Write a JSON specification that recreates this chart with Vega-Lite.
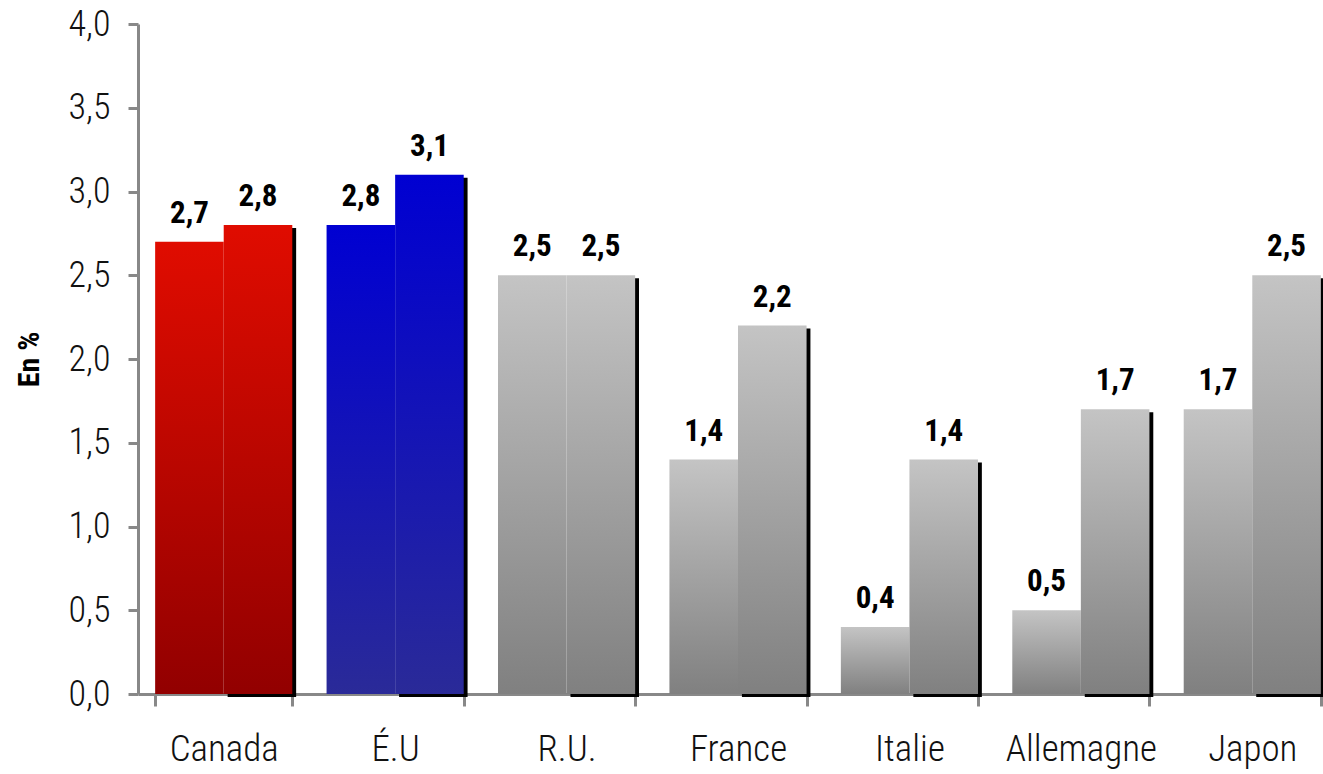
{
  "$schema": "https://vega.github.io/schema/vega-lite/v6.json",
  "width": 1200,
  "height": 670,
  "autosize": "none",
  "padding": {"left": 138, "top": 24, "right": 0, "bottom": 80},
  "config": {
    "font": "'Roboto Condensed', 'DejaVu Sans Condensed', 'Liberation Sans Narrow', sans-serif",
    "view": {"stroke": null},
    "locale": {"number": {"decimal": ",", "thousands": " ", "grouping": [3], "currency": ["", " €"]}}
  },
  "data": {
    "values": [
      {"pays": "Canada", "serie": "1", "valeur": 2.7},
      {"pays": "Canada", "serie": "2", "valeur": 2.8},
      {"pays": "É.U", "serie": "1", "valeur": 2.8},
      {"pays": "É.U", "serie": "2", "valeur": 3.1},
      {"pays": "R.U.", "serie": "1", "valeur": 2.5},
      {"pays": "R.U.", "serie": "2", "valeur": 2.5},
      {"pays": "France", "serie": "1", "valeur": 1.4},
      {"pays": "France", "serie": "2", "valeur": 2.2},
      {"pays": "Italie", "serie": "1", "valeur": 0.4},
      {"pays": "Italie", "serie": "2", "valeur": 1.4},
      {"pays": "Allemagne", "serie": "1", "valeur": 0.5},
      {"pays": "Allemagne", "serie": "2", "valeur": 1.7},
      {"pays": "Japon", "serie": "1", "valeur": 1.7},
      {"pays": "Japon", "serie": "2", "valeur": 2.5}
    ]
  },
  "encoding": {
    "x": {
      "field": "pays", "type": "nominal", "sort": null,
      "scale": {"paddingInner": 0.2, "paddingOuter": 0.1},
      "axis": {
        "title": null, "labelAngle": 0, "labelFontSize": 37, "labelFontWeight": 300, "labelColor": "#111",
        "labelPadding": 25, "domainColor": "#888", "domainWidth": 3,
        "tickColor": "#888", "tickWidth": 3, "tickSize": 12, "tickBand": "extent"
      }
    },
    "y": {
      "field": "valeur", "type": "quantitative",
      "scale": {"domain": [0, 4], "nice": false},
      "axis": {
        "values": [0, 0.5, 1, 1.5, 2, 2.5, 3, 3.5, 4], "format": ".1f", "grid": false,
        "labelFontSize": 36, "labelFontWeight": 300, "labelColor": "#111", "labelPadding": 18,
        "domainColor": "#888", "domainWidth": 3, "tickColor": "#888", "tickWidth": 3, "tickSize": 10,
        "title": "En %", "titleFontSize": 30, "titleFontWeight": "bold", "titleColor": "#000", "titlePadding": 24
      }
    }
  },
  "resolve": {"scale": {"xOffset": "independent"}},
  "layer": [
    {
      "transform": [{"filter": "datum.serie == '2'"}],
      "mark": {"type": "bar", "color": "#000", "yOffset": 3, "y2Offset": -3},
      "encoding": {
        "xOffset": {"field": "serie", "type": "nominal", "scale": {"domain": ["1", "2"], "range": [4, 141], "paddingInner": 0, "paddingOuter": 0}}
      }
    },
    {
      "layer": [
        {
          "transform": [{"filter": "datum.pays == 'Canada'"}],
          "mark": {"type": "bar", "color": {"gradient": "linear", "x1": 0, "y1": 0, "x2": 0, "y2": 1,
            "stops": [{"offset": 0, "color": "#e00c00"}, {"offset": 1, "color": "#920000"}]}},
          "encoding": {}
        },
        {
          "transform": [{"filter": "datum.pays == 'É.U'"}],
          "mark": {"type": "bar", "color": {"gradient": "linear", "x1": 0, "y1": 0, "x2": 0, "y2": 1,
            "stops": [{"offset": 0, "color": "#0000d2"}, {"offset": 1, "color": "#2a2a98"}]}},
          "encoding": {}
        },
        {
          "transform": [{"filter": "datum.pays != 'Canada' && datum.pays != 'É.U'"}],
          "mark": {"type": "bar", "color": {"gradient": "linear", "x1": 0, "y1": 0, "x2": 0, "y2": 1,
            "stops": [{"offset": 0, "color": "#c4c4c4"}, {"offset": 1, "color": "#808080"}]}},
          "encoding": {}
        },
        {
          "mark": {"type": "text", "baseline": "bottom", "dy": -12, "fontSize": 31, "fontWeight": "bold", "color": "#000"},
          "encoding": {"text": {"field": "valeur", "type": "quantitative", "format": ".1f"}}
        }
      ],
      "encoding": {
        "xOffset": {"field": "serie", "type": "nominal", "scale": {"paddingInner": 0, "paddingOuter": 0}}
      }
    }
  ]
}
